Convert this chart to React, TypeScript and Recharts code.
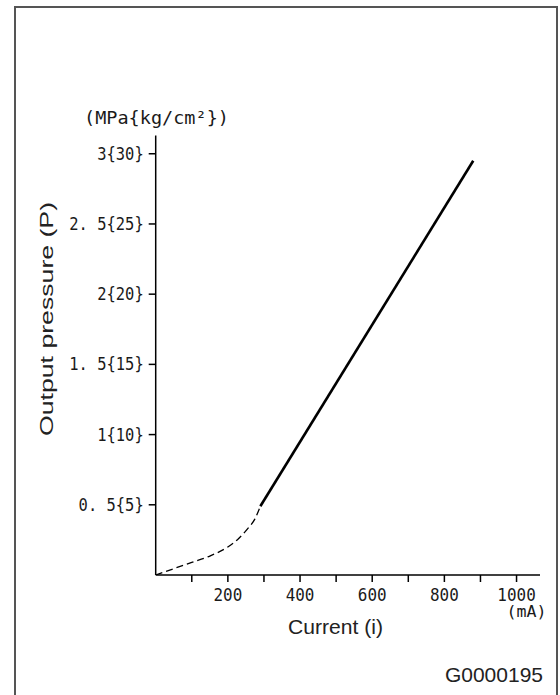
import { LineChart, Line, XAxis, YAxis } from 'recharts';

// dashed start-up portion of the curve (mA, MPa)
const dashedCurrent = [0, 50, 100, 150, 200, 230, 255, 275, 290];
const dashedPressure = [0, 0.045, 0.09, 0.135, 0.2, 0.26, 0.33, 0.4, 0.49];

// straight working range
const solidCurrent = [290, 880];
const solidPressure = [0.49, 2.95];

const xTicks = [100, 200, 300, 400, 500, 600, 700, 800, 900, 1000];
const xTickLabels = ['', '200', '', '400', '', '600', '', '800', '', '1000'];
const yTicks = [0.5, 1, 1.5, 2, 2.5, 3];
const yTickLabels = ['0. 5{5}', '1{10}', '1. 5{15}', '2{20}', '2. 5{25}', '3{30}'];

const dashedData = dashedCurrent.map((x, i) => ({ x, p: dashedPressure[i] }));
const solidData = solidCurrent.map((x, i) => ({ x, p: solidPressure[i] }));

const mono = '"DejaVu Sans Mono", monospace';
const sans = '"Liberation Sans", Arial, sans-serif';

const YTick = (props: any) => {
    const { x, y, index } = props;
    const label = yTickLabels[index];
    return (
        <text
            x={x}
            y={y}
            dy={6}
            textAnchor="end"
            fontFamily={mono}
            fontSize={17}
            fill="#1a1a1a"
            textLength={label.length * 9.3}
            lengthAdjust="spacingAndGlyphs"
        >
            {label}
        </text>
    );
};

const XTick = (props: any) => {
    const { x, y, index } = props;
    const label = xTickLabels[index];
    if (!label) return <g />;
    return (
        <g>
            <text
                x={x}
                y={y}
                dy={13}
                textAnchor="middle"
                fontFamily={mono}
                fontSize={17}
                fill="#1a1a1a"
                textLength={label.length * 9.6}
                lengthAdjust="spacingAndGlyphs"
            >
                {label}
            </text>
            {label === '1000' && (
                <text
                    x={x + 10}
                    y={y}
                    dy={29}
                    textAnchor="middle"
                    fontFamily={mono}
                    fontSize={15}
                    fill="#1a1a1a"
                    textLength={40}
                    lengthAdjust="spacingAndGlyphs"
                >
                    (mA)
                </text>
            )}
        </g>
    );
};

export default function App() {
    return (
        <div style={{ position: 'absolute', left: 0, top: 0, width: 560, height: 695, background: '#fff', overflow: 'hidden' }}>
            <div
                style={{
                    position: 'absolute',
                    left: 14,
                    top: 6,
                    width: 544,
                    height: 710,
                    border: '2px solid #555',
                    boxSizing: 'border-box',
                }}
            />
            <div style={{ position: 'absolute', left: 0, top: 0 }}>
                <LineChart width={560} height={695} margin={{ top: 135.5, right: 20, bottom: 80, left: 95.7 }}>
                    <XAxis
                        type="number"
                        dataKey="x"
                        domain={[0, 1065]}
                        ticks={xTicks}
                        interval={0}
                        height={40}
                        axisLine={{ stroke: '#000', strokeWidth: 1.5 }}
                        tickLine={{ stroke: '#000', strokeWidth: 1.5 }}
                        tickSize={7}
                        tickMargin={6}
                        tick={<XTick />}
                        allowDataOverflow
                    />
                    <YAxis
                        type="number"
                        dataKey="p"
                        domain={[0, 3.13]}
                        ticks={yTicks}
                        interval={0}
                        width={60}
                        axisLine={{ stroke: '#000', strokeWidth: 1.5 }}
                        tickLine={{ stroke: '#000', strokeWidth: 1.5 }}
                        tickSize={7}
                        tickMargin={5}
                        tick={<YTick />}
                        allowDataOverflow
                    />
                    <Line
                        data={dashedData}
                        dataKey="p"
                        type="monotone"
                        stroke="#000"
                        strokeWidth={1.3}
                        strokeDasharray="7 4"
                        dot={false}
                        isAnimationActive={false}
                    />
                    <Line
                        data={solidData}
                        dataKey="p"
                        type="linear"
                        stroke="#000"
                        strokeWidth={2.6}
                        dot={false}
                        isAnimationActive={false}
                    />
                    <text
                        x={84}
                        y={124}
                        fontFamily={mono}
                        fontSize={17}
                        fill="#1a1a1a"
                        textLength={145}
                        lengthAdjust="spacingAndGlyphs"
                    >
                        (MPa{'{'}kg/cm²{'}'})
                    </text>
                    <text
                        x={0}
                        y={0}
                        transform="translate(53 319) rotate(-90)"
                        textAnchor="middle"
                        fontFamily={sans}
                        fontSize={18}
                        fill="#222"
                        textLength={234}
                        lengthAdjust="spacingAndGlyphs"
                    >
                        Output pressure (P)
                    </text>
                    <text x={288} y={634} fontFamily={sans} fontSize={21} fill="#222" textLength={95} lengthAdjust="spacingAndGlyphs">
                        Current (i)
                    </text>
                    <text x={543} y={682} textAnchor="end" fontFamily={sans} fontSize={21} fill="#222">
                        G0000195
                    </text>
                </LineChart>
            </div>
        </div>
    );
}
